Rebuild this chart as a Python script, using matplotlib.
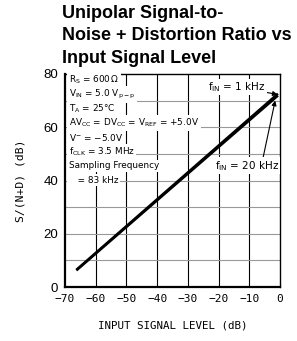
import matplotlib
matplotlib.use("Agg")
import matplotlib.pyplot as plt

# Data
level_1k = [-66, -1]
sn_1k = [6.8, 72.3]
level_20k = [-66, -1]
sn_20k = [6.6, 71.6]
xticks = [-70, -60, -50, -40, -30, -20, -10, 0]
yticks = [0, 20, 40, 60, 80]
cond_lines = [
    r"R$_\mathrm{S}$ = 600$\,\Omega$",
    r"V$_\mathrm{IN}$ = 5.0 V$_\mathrm{p-p}$",
    r"T$_\mathrm{A}$ = 25°C",
    r"AV$_\mathrm{CC}$ = DV$_\mathrm{CC}$ = V$_\mathrm{REF}$ = +5.0V",
    r"V$^{-}$ = −5.0V",
    r"f$_\mathrm{CLK}$ = 3.5 MHz",
    "Sampling Frequency",
    "   = 83 kHz",
]

fig = plt.figure(figsize=(2.97, 3.41), dpi=100)
ax = fig.add_axes([0.219, 0.158, 0.724, 0.625])

ax.set_xlim(-70, 0)
ax.set_ylim(0, 80)
for v in range(-60, 0, 10):
    ax.axvline(v, color="black", lw=0.8, zorder=1)
for v in range(10, 80, 10):
    ax.axhline(v, color="#999999", lw=0.8, zorder=1)

ax.plot(level_1k, sn_1k, color="black", lw=1.8, zorder=3)
ax.plot(level_20k, sn_20k, color="black", lw=1.8, zorder=3)

for s in ax.spines.values():
    s.set_linewidth(1.0)
ax.spines["left"].set_linewidth(1.6)
ax.spines["bottom"].set_linewidth(1.6)

ax.set_xticks(xticks)
ax.set_xticklabels([("−%d" % -t) if t < 0 else str(t) for t in xticks],
                   fontsize=8, family="DejaVu Sans Mono")
ax.set_yticks(yticks)
ax.set_yticklabels([str(t) for t in yticks], fontsize=9.5, family="Liberation Sans")
ax.tick_params(length=0, pad=5)
ax.set_xlabel("INPUT SIGNAL LEVEL (dB)", fontsize=7.8, family="DejaVu Sans Mono", labelpad=12)
ax.set_ylabel("S/(N+D) (dB)", fontsize=8.2, family="DejaVu Sans Mono", labelpad=13)

y0 = 77.7
for i, t in enumerate(cond_lines):
    ax.text(-68.8, y0 - i * 5.37, t, fontsize=6.4, va="center", ha="left", zorder=4,
            bbox=dict(facecolor="white", edgecolor="none", pad=1.2))

ax.annotate(r"f$_\mathrm{IN}$ = 1 kHz", xy=(-0.8, 72.3), xytext=(-23.6, 75.2),
            fontsize=7.5, va="center", ha="left", zorder=5,
            bbox=dict(facecolor="white", edgecolor="none", pad=1),
            arrowprops=dict(arrowstyle="-|>", color="black", lw=0.8, mutation_scale=7,
                            shrinkA=0, shrinkB=0))
ax.annotate(r"f$_\mathrm{IN}$ = 20 kHz", xy=(-1.6, 70.0), xytext=(-21.3, 45.6),
            fontsize=7.5, va="center", ha="left", zorder=5,
            bbox=dict(facecolor="white", edgecolor="none", pad=1),
            arrowprops=dict(arrowstyle="-|>", color="black", lw=0.8, mutation_scale=7,
                            shrinkA=0, shrinkB=0, relpos=(0.75, 1.0)))

fig.text(0.209, 0.985, "Unipolar Signal-to-\nNoise + Distortion Ratio vs\nInput Signal Level",
         fontsize=13, fontweight="bold", family="Liberation Sans", va="top", ha="left",
         linespacing=1.4)

fig.savefig("out.png", dpi=100)
